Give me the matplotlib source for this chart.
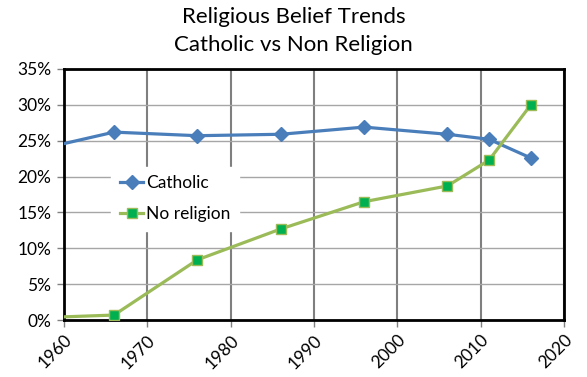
import matplotlib
matplotlib.use("Agg")
import matplotlib.pyplot as plt
from matplotlib.ticker import PercentFormatter

plt.rcParams['font.family'] = ['Lato', 'DejaVu Sans']

# census years (first point sits left of the axis and is clipped)
years = [1954, 1966, 1976, 1986, 1996, 2006, 2011, 2016]
catholic = [23.0, 26.2, 25.7, 25.9, 26.9, 25.9, 25.2, 22.6]
no_religion = [0.2, 0.7, 8.4, 12.7, 16.5, 18.7, 22.3, 30.0]

title = "Religious Belief Trends\nCatholic vs Non Religion"
x_ticks = [1960, 1970, 1980, 1990, 2000, 2010, 2020]
y_ticks = [0, 5, 10, 15, 20, 25, 30, 35]

fig = plt.figure(figsize=(5.87, 3.77), dpi=100)
ax = fig.add_axes([0.109, 0.151, 0.852, 0.666])

ax.plot(years, catholic, color='#4A7EBB', lw=2.3, marker='D', ms=7,
        mfc='#4A7EBB', mec='#4A7EBB', label='Catholic', zorder=3)
ax.plot(years, no_religion, color='#9BBB59', lw=2.3, marker='s', ms=7,
        mfc='#00B050', mec='#9BBB59', mew=1, label='No religion', zorder=3)

ax.set_xlim(1960, 2020)
ax.set_ylim(0, 35)
ax.set_xticks(x_ticks)
ax.set_yticks(y_ticks)
ax.yaxis.set_major_formatter(PercentFormatter(decimals=0))
ax.tick_params(axis='both', labelsize=12.5, length=5, color='#808080', width=1)
ax.tick_params(axis='y', pad=4)
plt.setp(ax.get_xticklabels(), rotation=45, ha='right', rotation_mode='anchor')

ax.grid(axis='y', color='#A6A6A6', lw=1)
ax.grid(axis='x', color='#7F7F7F', lw=1.5)
ax.set_axisbelow(True)
for s in ax.spines.values():
    s.set_linewidth(2)
    s.set_color('black')

fig.suptitle(title, fontsize=16, y=0.982, linespacing=1.5)

leg = ax.legend(loc='upper left', bbox_to_anchor=(0.077, 0.645), frameon=True,
                fontsize=12.5, handlelength=1.35, handletextpad=0.15,
                labelspacing=0.85, borderpad=0.5, fancybox=False)
leg.get_frame().set_edgecolor('white')
leg.get_frame().set_facecolor('white')
leg.get_frame().set_alpha(1)

fig.savefig('out.png', dpi=100)
